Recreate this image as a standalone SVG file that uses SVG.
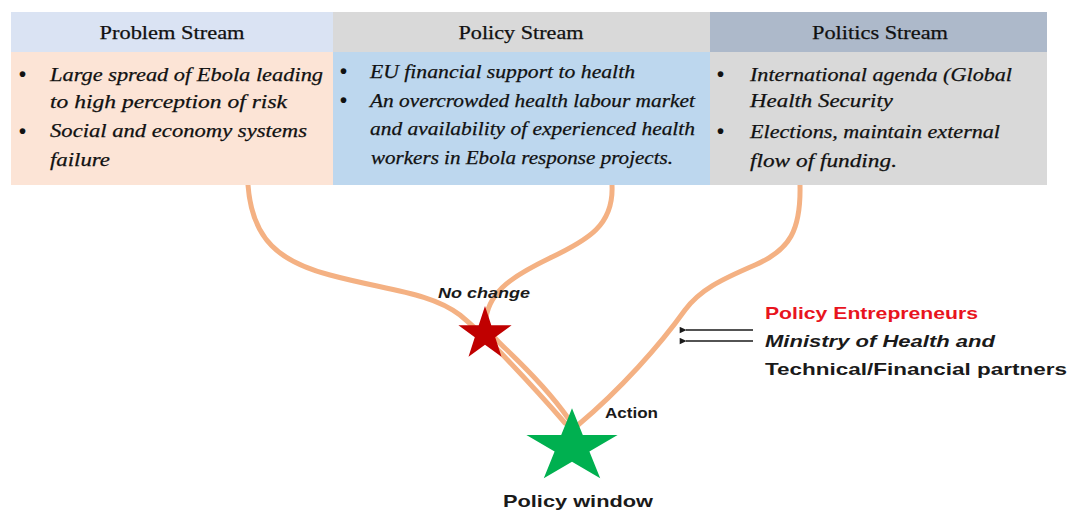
<svg xmlns="http://www.w3.org/2000/svg" width="1069" height="513" viewBox="0 0 1069 513">
<defs>
<style>
.hd{font-family:"Liberation Serif",serif;font-size:19px;fill:#111111;text-anchor:middle;stroke:#111111;stroke-width:0.25}
.bd{font-family:"Liberation Serif",serif;font-size:19px;font-style:italic;fill:#111111;stroke:#111111;stroke-width:0.25}
.bl{font-family:"Liberation Sans",sans-serif;font-size:20px;font-weight:bold;fill:#111111}
.cv{fill:none;stroke:#f4b183;stroke-width:5;stroke-linecap:round}
.lb{font-family:"Liberation Sans",sans-serif;font-weight:bold;fill:#1a1a1a}
</style>
<marker id="ah" viewBox="0 0 10 10" refX="1" refY="5" markerWidth="9" markerHeight="7" orient="auto-start-reverse" markerUnits="userSpaceOnUse">
<path d="M0,5 L10,0.5 L10,9.5 Z" fill="#1a1a1a"/>
</marker>
</defs>
<rect width="1069" height="513" fill="#ffffff"/>

<g id="connectors">
<path class="cv" d="M248,185 C252,240 280,262 330,275 C385,290 430,292 460,315 C478,330 490,342 500,352 C522,375 545,400 565,423"/>
<path class="cv" d="M612,185 C614,225 588,240 550,258 C515,275 490,290 486,318 C488,332 496,340 507,350 C530,372 552,395 568,418"/>
<path class="cv" d="M800,185 C801,230 790,250 755,265 C720,280 700,290 685,310 C660,345 620,390 578,425"/>
<line x1="753" y1="330" x2="686" y2="330" stroke="#1a1a1a" stroke-width="1.6" marker-end="url(#ah)"/>
<line x1="753" y1="341" x2="686" y2="341" stroke="#1a1a1a" stroke-width="1.6" marker-end="url(#ah)"/>
</g>

<g id="problem-stream">
<rect x="11" y="12" width="322" height="40" fill="#dae3f3"/>
<rect x="11" y="52" width="322" height="133" fill="#fce4d6"/>
<text class="hd" x="172" y="39" textLength="145" lengthAdjust="spacingAndGlyphs">Problem Stream</text>
<text class="bl" x="19" y="81">•</text>
<text class="bd" x="50" y="81" textLength="273" lengthAdjust="spacingAndGlyphs">Large spread of Ebola leading</text>
<text class="bd" x="50" y="108" textLength="237" lengthAdjust="spacingAndGlyphs">to high perception of risk</text>
<text class="bl" x="19" y="138">•</text>
<text class="bd" x="50" y="137" textLength="257" lengthAdjust="spacingAndGlyphs">Social and economy systems</text>
<text class="bd" x="50" y="166" textLength="60" lengthAdjust="spacingAndGlyphs">failure</text>
</g>

<g id="policy-stream">
<rect x="333" y="12" width="377" height="40" fill="#d9d9d9"/>
<rect x="333" y="52" width="377" height="133" fill="#bdd7ee"/>
<text class="hd" x="521" y="39" textLength="125" lengthAdjust="spacingAndGlyphs">Policy Stream</text>
<text class="bl" x="340" y="78">•</text>
<text class="bd" x="370" y="78" textLength="265" lengthAdjust="spacingAndGlyphs">EU financial support to health</text>
<text class="bl" x="340" y="107">•</text>
<text class="bd" x="370" y="107" textLength="325" lengthAdjust="spacingAndGlyphs">An overcrowded health labour market</text>
<text class="bd" x="370" y="135" textLength="325" lengthAdjust="spacingAndGlyphs">and  availability of experienced health</text>
<text class="bd" x="371" y="164" textLength="302" lengthAdjust="spacingAndGlyphs">workers in Ebola response projects.</text>
</g>

<g id="politics-stream">
<rect x="710" y="12" width="337" height="40" fill="#adb9ca"/>
<rect x="710" y="52" width="337" height="133" fill="#d9d9d9"/>
<text class="hd" x="880" y="39" textLength="136" lengthAdjust="spacingAndGlyphs">Politics Stream</text>
<text class="bl" x="717" y="81">•</text>
<text class="bd" x="750" y="81" textLength="262" lengthAdjust="spacingAndGlyphs">International agenda (Global</text>
<text class="bd" x="750" y="107" textLength="143" lengthAdjust="spacingAndGlyphs">Health Security</text>
<text class="bl" x="717" y="138">•</text>
<text class="bd" x="750" y="138" textLength="250" lengthAdjust="spacingAndGlyphs">Elections, maintain external</text>
<text class="bd" x="750" y="167" textLength="147" lengthAdjust="spacingAndGlyphs">flow of funding.</text>
</g>

<g id="no-change">
<polygon points="485,306 491.3,325.3 511.6,325.3 495.2,337.3 501.5,356.7 485,344.7 468.5,356.7 474.8,337.3 458.4,325.3 478.7,325.3" fill="#c00000"/>
<text class="lb" x="438" y="298" font-size="14" font-style="italic" textLength="92" lengthAdjust="spacingAndGlyphs">No change</text>
</g>

<g id="policy-window">
<polygon points="572,408.3 582.8,435 617.6,435 589.4,451.6 600.2,478.3 572,461.8 543.8,478.3 554.6,451.6 526.4,435 561.2,435" fill="#00b050"/>
<text class="lb" x="605" y="418" font-size="14" textLength="53" lengthAdjust="spacingAndGlyphs">Action</text>
<text class="lb" x="578" y="507" font-size="17" text-anchor="middle" textLength="150" lengthAdjust="spacingAndGlyphs">Policy window</text>
</g>

<g id="policy-entrepreneurs">
<text class="lb" x="765" y="319" font-size="17" style="fill:#e8141e" textLength="213" lengthAdjust="spacingAndGlyphs">Policy Entrepreneurs</text>
<text class="lb" x="765" y="347" font-size="17" font-style="italic" textLength="230" lengthAdjust="spacingAndGlyphs">Ministry of Health and</text>
<text class="lb" x="765" y="375" font-size="17" textLength="302" lengthAdjust="spacingAndGlyphs">Technical/Financial partners</text>
</g>
</svg>
